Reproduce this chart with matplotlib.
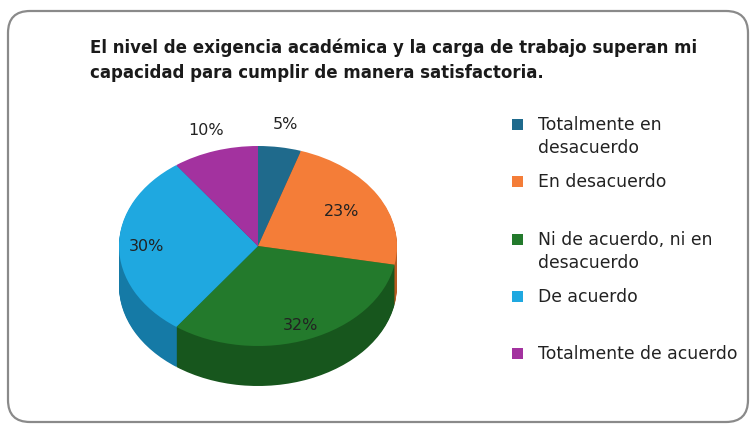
import matplotlib.pyplot as plt
from matplotlib.patches import FancyBboxPatch, Rectangle
import numpy as np

# datos
categorias = ["Totalmente en\ndesacuerdo", "En desacuerdo", "Ni de acuerdo, ni en\ndesacuerdo",
              "De acuerdo", "Totalmente de acuerdo"]
valores = [5, 23, 32, 30, 10]
titulo = ("El nivel de exigencia académica y la carga de trabajo superan mi\n"
          "capacidad para cumplir de manera satisfactoria.")

colores = ["#1f6a8c", "#f47d38", "#237a2c", "#1fa8e0", "#a3329f"]
colores_lado = ["#154a63", "#b85a22", "#17561d", "#157aa6", "#76226f"]
dist_etiq = [1.24, 0.70, 0.84, 0.80, 1.22]

W, H = 753, 427
fig = plt.figure(figsize=(W / 100, H / 100), dpi=100)
plt.rcParams['font.family'] = ['DejaVu Sans']

# marco redondeado
bg = fig.add_axes([0, 0, 1, 1])
bg.set_xlim(0, W)
bg.set_ylim(H, 0)
bg.axis("off")
bg.add_patch(FancyBboxPatch((8, 12), 740, 411, boxstyle="round,pad=0,rounding_size=22",
                            fc="white", ec="#8a8a8a", lw=1.6))
bg.text(90, 60, titulo, fontsize=12.0, fontweight="bold", ha="left", va="center",
        linespacing=1.5, color="#1a1a1a")

# pie (elipse con profundidad)
cx, cy, rx, ry = 258, 247, 139, 100
xl, yl_bot, yl_top = 1.1, -1.6, 1.2
left = (cx - rx * xl) / W
width = 2 * rx * xl / W
bottom = (H - (cy - yl_bot * ry)) / H
height = (yl_top - yl_bot) * ry / H
ax = fig.add_axes([left, bottom, width, height])

profundidad = 0.4
for d in np.linspace(profundidad, 0.01, 40):
    ax.pie(valores, colors=colores_lado, startangle=90, counterclock=False,
           center=(0, -d), wedgeprops=dict(linewidth=0))
wedges, _ = ax.pie(valores, colors=colores, startangle=90, counterclock=False,
                   wedgeprops=dict(linewidth=0))
ax.set_aspect("auto")
ax.set_xlim(-xl, xl)
ax.set_ylim(yl_bot, yl_top)
ax.axis("off")

for w, v, r in zip(wedges, valores, dist_etiq):
    ang = np.deg2rad((w.theta1 + w.theta2) / 2)
    ax.text(r * np.cos(ang), r * np.sin(ang), f"{v}%", ha="center", va="center",
            fontsize=11.5, color="#222222")

# leyenda
for i, (cat, col) in enumerate(zip(categorias, colores)):
    y = 126 + i * 57.3
    bg.add_patch(Rectangle((512, y - 6), 11, 11, fc=col, ec="none"))
    bg.text(538, y - 10, cat, fontsize=12.4, ha="left", va="top", linespacing=1.35,
            color="#222222")

fig.savefig("out.png", dpi=100)
